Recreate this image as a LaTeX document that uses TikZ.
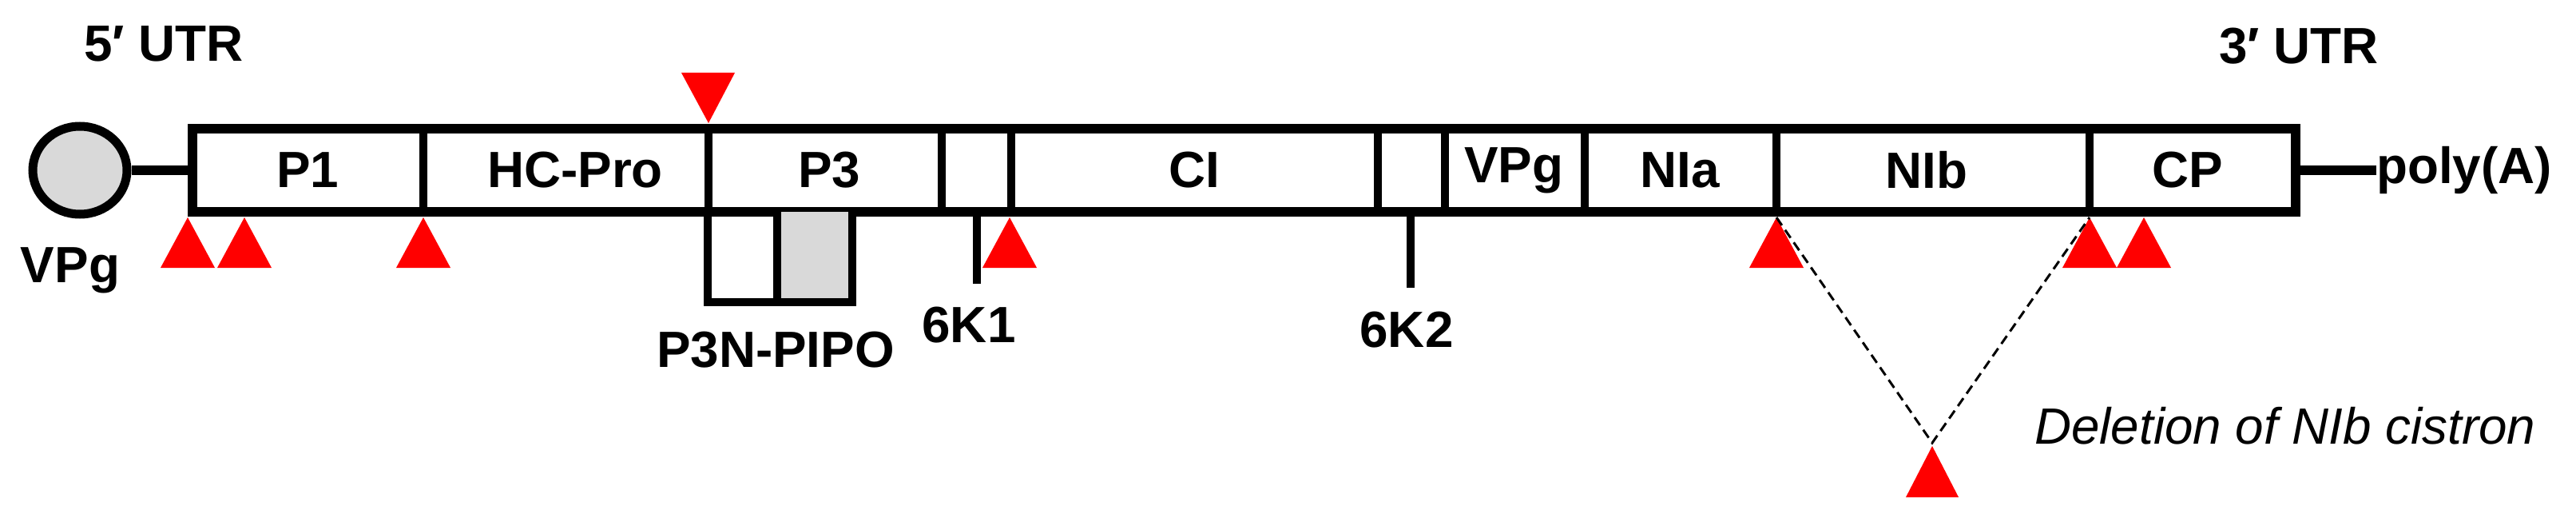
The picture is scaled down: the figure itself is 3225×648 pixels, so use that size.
\documentclass[tikz,border=0pt]{standalone}
\usepackage{fontspec}
\setmainfont{Liberation Sans}
\usetikzlibrary{shapes.geometric}
\newcommand{\uptri}[1]{\fill[red] (#1-34,335) -- (#1,272) -- (#1+34,335) -- cycle;}
\begin{document}
\begin{tikzpicture}[x=1bp,y=-1bp,
  lab/.style={font=\fontsize{64}{64}\selectfont\bfseries, inner sep=0pt},
  thick line/.style={line width=10bp}]
\useasboundingbox (0,0) rectangle (3225,648);
% VPg
\node[ellipse, draw, line width=11bp, fill=gray!30, minimum width=118bp, minimum height=110bp, inner sep=0pt] (vpg) at (100,213) {};
\coordinate (boxL) at (241,213);
\draw[line width=11bp] (vpg.east) -- (boxL);
% main box
\draw[line width=12bp] (241,161) rectangle (2874,265);
\foreach \x in {530,887,1179,1266,1725,1809,1984,2224,2616}
  \draw[thick line] (\x,161) -- (\x,265);
% P3N-PIPO
\fill[gray!30] (973,265) rectangle (1067,378);
\draw[thick line] (886,265) -- (886,378) -- (1067,378) -- (1067,265);
\draw[thick line] (973,265) -- (973,378);
% sticks
\draw[thick line] (1223,265) -- (1223,355);
\draw[thick line] (1766,265) -- (1766,360);
% poly(A)
\coordinate (boxR) at (2874,213);
\node[lab, anchor=west] (polyA) at (2975,213) {poly(A)};
\draw[line width=11bp] (boxR) -- (polyA.west);
% labels
\node[lab] at (205,55) {5′ UTR};
\node[lab] at (2878,58) {3′ UTR};
\node[lab] at (88,338) {VPg};
\node[lab] at (385,213) {P1};
\node[lab] at (720,213) {HC-Pro};
\node[lab] at (1038,213) {P3};
\node[lab] at (1495,213) {CI};
\node[lab] at (1895,213) {VPg};
\node[lab] at (2103,213) {NIa};
\node[lab] at (2412,213) {NIb};
\node[lab] at (2739,213) {CP};
\node[lab] at (971,438) {P3N-PIPO};
\node[lab] at (1213,407) {6K1};
\node[lab] at (1761,413) {6K2};
\node[inner sep=0pt, font=\fontsize{64}{64}\selectfont\itshape, anchor=west] at (2547,533) {Deletion of NIb cistron};
% triangles
\uptri{235}\uptri{306}\uptri{530}\uptri{1264}\uptri{2224}\uptri{2616}\uptri{2684}
\fill[red] (853,91) -- (920,91) -- (887,154) -- cycle;
\fill[red] (2386,622) -- (2419,558) -- (2452,622) -- cycle;
% dashed V
\draw[line width=3bp, dash pattern=on 12bp off 7bp] (2224,272) -- (2419,554) -- (2616,272);
\end{tikzpicture}
\end{document}
